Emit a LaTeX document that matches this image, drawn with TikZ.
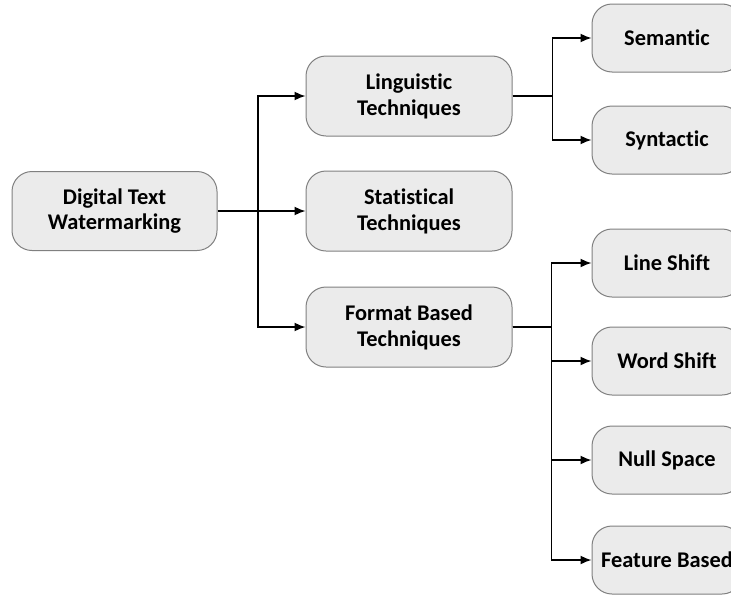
\documentclass[tikz,border=0pt]{standalone}
\usepackage{fontspec}
\setmainfont[RawFeature={-liga;-clig;-dlig;-calt}]{Carlito}
\usetikzlibrary{arrows.meta}
\tikzset{>={Latex[length=5.5pt,width=4.5pt]}}
\colorlet{boxfill}{black!8}
\colorlet{boxline}{black!50}

\begin{document}
\begin{tikzpicture}[x=0.5pt,y=-0.5pt,
    box/.style={draw=boxline,fill=boxfill,rounded corners=10pt,line width=0.5pt,
      align=center,font=\bfseries\fontsize{11.2}{12.9}\selectfont,inner sep=0pt},
    rootbox/.style={box,minimum width=102.5pt,minimum height=39.5pt},
    midbox/.style={box,minimum width=103pt,minimum height=40pt},
    leafbox/.style={box,minimum width=75pt,minimum height=34pt},
    conn/.style={->,line width=0.8pt}]
  \useasboundingbox (0,0) rectangle (731,594);
  \clip (0,0) rectangle (731,594);
  % level 1
  \node[rootbox] (root) at (114.5,211) {Digital Text\\Watermarking};
  % level 2
  \node[midbox] (ling) at (409,96) {Linguistic\\Techniques};
  \node[midbox] (stat) at (409,211) {Statistical\\Techniques};
  \node[midbox] (form) at (409,327) {Format Based\\Techniques};
  % level 3
  \node[leafbox] (sem) at (667,38) {Semantic};
  \node[leafbox] (syn) at (667,140) {Syntactic};
  \node[leafbox] (line) at (667,263) {Line Shift};
  \node[leafbox] (word) at (667,361) {Word Shift};
  \node[leafbox] (null) at (667,460) {Null Space};
  \node[leafbox] (feat) at (667,560) {Feature Based};
  % connectors
  \coordinate (trunk) at (258,211);
  \draw[conn] (root.east) -- (stat.west);
  \draw[conn] (trunk) |- (ling.west);
  \draw[conn] (trunk) |- (form.west);
  \draw[conn] (ling.east) -- ++(40,0) |- (sem.west);
  \draw[conn] (ling.east) -- ++(40,0) |- (syn.west);
  \draw[conn] (form.east) -- ++(39,0) |- (line.west);
  \draw[conn] (form.east) -- ++(39,0) |- (word.west);
  \draw[conn] (form.east) -- ++(39,0) |- (null.west);
  \draw[conn] (form.east) -- ++(39,0) |- (feat.west);
\end{tikzpicture}
\end{document}
